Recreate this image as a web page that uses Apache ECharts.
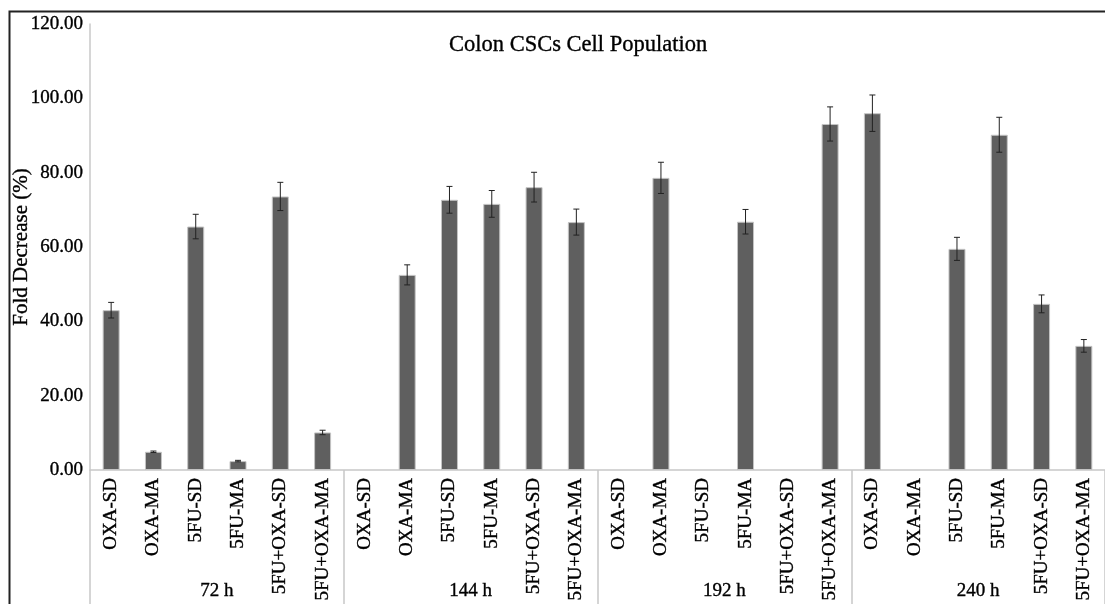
<!DOCTYPE html>
<html>
<head>
<meta charset="utf-8">
<script src="https://cdn.jsdelivr.net/npm/echarts@6/dist/echarts.min.js"></script>
<style>
html,body{margin:0;padding:0;background:#fff;}
#chart{width:1105px;height:604px;}
</style>
</head>
<body>
<div id="chart"></div>
<script>
const treatments = ['OXA-SD','OXA-MA','5FU-SD','5FU-MA','5FU+OXA-SD','5FU+OXA-MA'];
const groups = ['72 h','144 h','192 h','240 h'];
const values72  = [43.0, 4.9, 65.5, 2.4, 73.6, 10.1];
const values144 = [0, 52.5, 72.7, 71.6, 76.1, 66.7];
const values192 = [0, 78.6, 0, 66.8, 0, 93.1];
const values240 = [96.0, 0, 59.5, 90.2, 44.7, 33.4];
const errors72  = [2.1, 0.2, 3.3, 0.2, 3.8, 0.6];
const errors144 = [0, 2.7, 3.6, 3.6, 4.0, 3.5];
const errors192 = [0, 4.2, 0, 3.3, 0, 4.6];
const errors240 = [4.9, 0, 3.1, 4.7, 2.4, 1.7];
const yTicks = [0, 20, 40, 60, 80, 100, 120];

const categories = [];
groups.forEach(() => treatments.forEach(t => categories.push(t)));
const values = [].concat(values72, values144, values192, values240);
const errors = [].concat(errors72, errors144, errors192, errors240);
const errData = values.map((v, i) => [i, v - errors[i], v + errors[i], errors[i]]);
const barData = values.map(v => v > 0 ? v : {value: v, itemStyle: {borderWidth: 0, opacity: 0}});

const FONT = '"Liberation Serif", "Times New Roman", serif';
const heavy = {textBorderColor: '#000', textBorderWidth: 0.35};
const chart = echarts.init(document.getElementById('chart'));
chart.setOption({
  backgroundColor: '#fff',
  animation: false,
  title: {
    text: 'Colon CSCs Cell Population',
    left: 444, top: 29,
    textStyle: Object.assign({fontFamily: FONT, fontSize: 22.5, fontWeight: 'normal', color: '#000'}, heavy)
  },
  graphic: [
    {type: 'polyline', shape: {points: [[9.5, 604], [9.5, 11.5], [1105, 11.5]]},
     style: {stroke: '#222', lineWidth: 2, fill: null}, z: 10}
  ],
  grid: {left: 90, right: 0, top: 24, bottom: 134, containLabel: false, outerBoundsMode: 'none'},
  xAxis: [
    {
      type: 'category', data: categories, position: 'bottom',
      axisLine: {show: true, lineStyle: {color: '#c8c8c8', width: 1.5}},
      axisTick: {show: false},
      axisLabel: Object.assign({rotate: 90, interval: 0, margin: 8, fontFamily: FONT, fontSize: 19, color: '#000'}, heavy)
    },
    {
      type: 'category', data: groups, position: 'bottom', gridIndex: 0,
      axisLine: {show: false},
      axisTick: {show: true, length: 140, lineStyle: {color: '#c8c8c8', width: 1.5}},
      axisLabel: Object.assign({margin: 112, fontFamily: FONT, fontSize: 19, color: '#000'}, heavy)
    }
  ],
  yAxis: {
    type: 'value', min: 0, max: 120, interval: 20,
    name: 'Fold Decrease (%)', nameLocation: 'middle', nameGap: 58, nameMoveOverlap: false,
    nameTextStyle: Object.assign({fontFamily: FONT, fontSize: 21, color: '#000'}, heavy),
    axisLine: {show: true, lineStyle: {color: '#c8c8c8', width: 1.5}},
    axisTick: {show: false},
    splitLine: {show: false},
    axisLabel: Object.assign({fontFamily: FONT, fontSize: 19, color: '#000', margin: 7,
      formatter: v => yTicks.includes(v) ? v.toFixed(2) : ''}, heavy)
  },
  series: [
    {
      type: 'bar', data: barData, barWidth: 17, xAxisIndex: 0,
      itemStyle: {color: '#5f5f5f', borderColor: '#c4c4c4', borderWidth: 1}
    },
    {
      type: 'custom', xAxisIndex: 0, data: errData, z: 5,
      renderItem: function (params, api) {
        if (api.value(3) <= 0) return null;
        const x = api.value(0);
        const lo = api.coord([x, api.value(1)]);
        const hi = api.coord([x, api.value(2)]);
        const hw = 3;
        const st = {stroke: '#222', lineWidth: 1};
        return {type: 'group', children: [
          {type: 'line', shape: {x1: lo[0], y1: lo[1], x2: hi[0], y2: hi[1]}, style: st},
          {type: 'line', shape: {x1: hi[0]-hw, y1: hi[1], x2: hi[0]+hw, y2: hi[1]}, style: st},
          {type: 'line', shape: {x1: lo[0]-hw, y1: lo[1], x2: lo[0]+hw, y2: lo[1]}, style: st}
        ]};
      }
    }
  ]
});
</script>
</body>
</html>
